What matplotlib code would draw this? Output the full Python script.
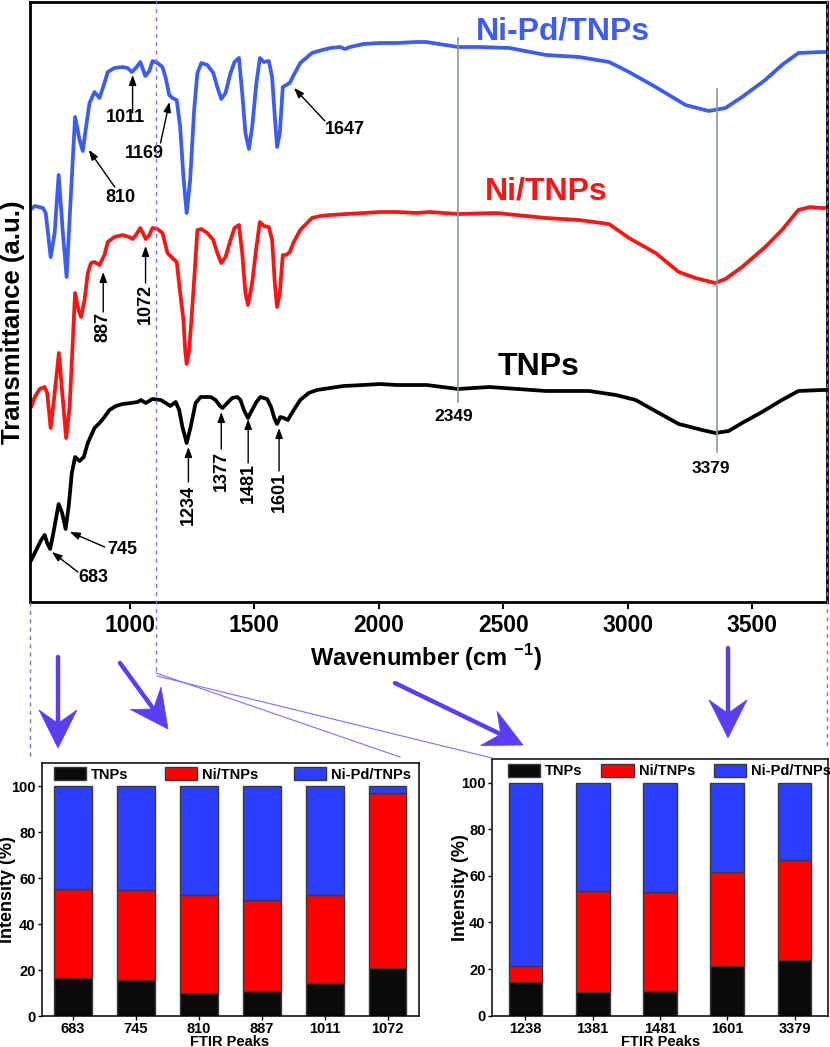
import math
import matplotlib
matplotlib.use('Agg')
import matplotlib.pyplot as plt
from matplotlib.patches import Polygon
from matplotlib.lines import Line2D

plt.rcParams['font.family'] = ['Liberation Sans', 'DejaVu Sans']
plt.rcParams['font.weight'] = 'bold'
plt.rcParams['mathtext.fontset'] = 'custom'
plt.rcParams['mathtext.rm'] = 'Liberation Sans:bold'
plt.rcParams['mathtext.bf'] = 'Liberation Sans:bold'

W, H = 830, 1047

# FTIR spectra: wavenumber (cm-1) and transmittance (a.u., stacked offsets)
wn_nipd = [600, 619, 652, 663, 683, 699, 715, 732, 747, 763, 781, 799, 812, 825,
           839, 859, 879, 899, 912, 939, 972, 992, 1009, 1025, 1043, 1063, 1079,
           1092, 1112, 1132, 1145, 1159, 1172, 1189, 1203, 1216, 1229, 1243, 1259,
           1272, 1288, 1312, 1336, 1352, 1368, 1385, 1405, 1421, 1439, 1452, 1465,
           1479, 1492, 1509, 1523, 1539, 1559, 1572, 1583, 1592, 1603, 1615, 1629,
           1643, 1659, 1685, 1732, 1759, 1805, 1845, 1865, 1885, 1939, 2005, 2072,
           2152, 2192, 2319, 2405, 2525, 2672, 2805, 2925, 3005, 3112, 3232, 3325,
           3392, 3459, 3552, 3619, 3685, 3779, 3800]
t_nipd = [392, 396, 394, 389, 345, 369, 427, 369, 325, 402, 485, 462, 451, 475,
          499, 510, 504, 519, 530, 534, 535, 534, 530, 534, 540, 526, 531,
          541, 539, 535, 524, 507, 504, 502, 475, 425, 389, 422, 492,
          529, 539, 537, 529, 515, 503, 509, 529, 540, 544, 509, 469,
          453, 475, 519, 544, 540, 541, 525, 485, 455, 469, 515, 517,
          519, 527, 539, 549, 551, 554, 555, 553, 555, 558, 559, 559,
          560, 560, 555, 555, 554, 547, 545, 540, 530, 515, 497, 491,
          494, 505, 522, 537, 549, 550, 550]

wn_ni = [600, 605, 619, 639, 659, 669, 683, 699, 716, 732, 745, 759, 772, 781,
         795, 805, 819, 832, 845, 859, 879, 899, 912, 939, 972, 999, 1012, 1025,
         1043, 1065, 1079, 1092, 1112, 1132, 1152, 1172, 1189, 1203, 1216, 1223,
         1229, 1239, 1248, 1261, 1272, 1288, 1312, 1336, 1352, 1368, 1385, 1405,
         1421, 1439, 1452, 1465, 1475, 1492, 1509, 1523, 1539, 1559, 1572, 1583,
         1592, 1603, 1615, 1629, 1643, 1659, 1685, 1732, 1765, 1805, 1872, 1939,
         2005, 2072, 2152, 2205, 2319, 2472, 2672, 2805, 2925, 3005, 3112, 3205,
         3272, 3352, 3392, 3459, 3552, 3619, 3685, 3732, 3779, 3800]
t_ni = [205, 195, 205, 213, 215, 209, 174, 209, 249, 202, 164, 195, 262, 309,
        292, 285, 302, 329, 339, 340, 337, 347, 360, 365, 367, 365, 363, 367,
        374, 363, 367, 374, 373, 369, 349, 344, 340, 309, 282, 252,
        238, 252, 282, 329, 372, 373, 369, 362, 349, 339, 345, 362,
        374, 377, 349, 309, 297, 319, 355, 380, 376, 375, 362, 319,
        295, 309, 347, 347, 350, 360, 372, 384, 386, 387, 388, 389,
        390, 390, 389, 390, 388, 389, 384, 382, 378, 364, 349, 330,
        324, 319, 323, 335, 355, 372, 392, 395, 394, 394]

wn_tnps = [600, 605, 619, 645, 659, 669, 681, 696, 715, 729, 743, 755, 768, 781,
           799, 816, 832, 859, 879, 899, 919, 945, 972, 1005, 1032, 1045, 1065,
           1092, 1125, 1145, 1163, 1185, 1199, 1212, 1229, 1245, 1265, 1285, 1325,
           1345, 1363, 1373, 1392, 1412, 1432, 1445, 1459, 1475, 1492, 1509, 1525,
           1552, 1568, 1581, 1592, 1605, 1619, 1635, 1659, 1685, 1719, 1752, 1805,
           1859, 1939, 2005, 2072, 2152, 2192, 2319, 2445, 2672, 2845, 2952, 3032,
           3125, 3205, 3299, 3352, 3405, 3459, 3539, 3619, 3685, 3779, 3800]
t_tnps = [40, 42, 49, 62, 67, 59, 53, 72, 98, 89, 73, 95, 129, 145,
          141, 145, 159, 174, 179, 185, 192, 196, 198, 199, 200, 202, 199,
          203, 202, 199, 196, 200, 192, 175, 159, 175, 199, 205, 205,
          202, 196, 194, 199, 204, 205, 202, 192, 184, 192, 200, 205,
          203, 195, 184, 178, 185, 184, 182, 192, 202, 209, 212, 214,
          216, 217, 218, 217, 217, 217, 213, 215, 211, 211, 207, 202,
          189, 178, 172, 169, 171, 179, 190, 202, 211, 212, 212]

# peak intensity shares (%)
left_peaks = ['683', '745', '810', '887', '1011', '1072']
left_tnps = [16.7, 15.6, 10.0, 11.0, 14.4, 20.9]
left_ni = [38.5, 39.1, 42.8, 39.4, 38.1, 76.2]
left_nipd = [44.8, 45.3, 47.2, 49.6, 47.5, 2.9]

right_peaks = ['1238', '1381', '1481', '1601', '3379']
right_tnps = [14.6, 10.3, 10.6, 21.4, 23.9]
right_ni = [6.7, 43.1, 42.3, 40.3, 42.8]
right_nipd = [78.7, 46.6, 47.1, 38.3, 33.3]

BLUE_LINE = '#3d5cf6'
RED_LINE = '#ff1414'
BLUE_BAR = '#2a3fff'
RED_BAR = '#ff0000'
BLACK_BAR = '#0a0a0a'
ARROW_C = '#5a3ff2'
DASH_C = '#7f72f2'


def fpt(x, y):
    """pixel (top-left origin) -> figure fraction"""
    return x / W, 1 - y / H


def big_arrow(fig, x0, y0, x1, y1, hl=38, hw=19):
    dx, dy = x1 - x0, y1 - y0
    L = math.hypot(dx, dy)
    ux, uy = dx / L, dy / L
    px, py = -uy, ux
    bx, by = x1 - ux * hl, y1 - uy * hl
    nx, ny = x1 - ux * hl * 0.65, y1 - uy * hl * 0.65
    pts = [(x1, y1), (bx + px * hw, by + py * hw), (nx, ny), (bx - px * hw, by - py * hw)]
    fig.add_artist(Polygon([fpt(*p) for p in pts], closed=True, facecolor=ARROW_C,
                           edgecolor=ARROW_C, lw=0.5, transform=fig.transFigure))
    a, b = fpt(x0, y0), fpt(nx, ny)
    fig.add_artist(Line2D([a[0], b[0]], [a[1], b[1]], color=ARROW_C, lw=3.2,
                          solid_capstyle='round', transform=fig.transFigure))


def fig_line(fig, pts, **kw):
    xs, ys = zip(*[fpt(*p) for p in pts])
    fig.add_artist(Line2D(xs, ys, transform=fig.transFigure, **kw))


fig = plt.figure(figsize=(W / 100, H / 100), dpi=100)

# ---- FTIR spectra ----
ax = fig.add_axes([30 / W, 1 - 602 / H, 797 / W, 600 / H])
ax.plot(wn_tnps, t_tnps, color='black', lw=2.7, solid_joinstyle='round')
ax.plot(wn_ni, t_ni, color=RED_LINE, lw=2.7, solid_joinstyle='round')
ax.plot(wn_nipd, t_nipd, color=BLUE_LINE, lw=2.7, solid_joinstyle='round')
ax.set_xlim(600, 3800)
ax.set_ylim(0, 600)
ax.set_yticks([])
ax.set_xticks([1000, 1500, 2000, 2500, 3000, 3500])
ax.tick_params(axis='x', direction='out', length=5, width=1.5, labelsize=16.5, pad=4)
for s in ax.spines.values():
    s.set_linewidth(2)

ax.text(2740, 563, 'Ni-Pd/TNPs', color=BLUE_LINE, fontsize=23, ha='center', va='baseline')
ax.text(2672, 402, 'Ni/TNPs', color=RED_LINE, fontsize=23, ha='center', va='baseline')
ax.text(2642, 227, 'TNPs', color='black', fontsize=23, ha='center', va='baseline')

# gray marker lines
ax.plot([2320, 2320], [200, 564], color='#8d9999', lw=1.2)
ax.text(2301, 181, '2349', fontsize=12.5, ha='center', va='baseline')
ax.plot([3359, 3359], [150, 513], color='#8d9999', lw=1.2)
ax.text(3333, 129, '3379', fontsize=12.5, ha='center', va='baseline')

# peak annotations: label, text pos, arrow tail, arrow tip, rotation
notes = [
    ('1011', (984, 485), (1012, 489), (1012, 527), 0),
    ('1169', (1060, 448), (1124, 459), (1160, 500), 0),
    ('810', (964, 405), (940, 415), (836, 452), 0),
    ('1647', (1864, 473), (1784, 481), (1660, 514), 0),
    ('887', (894, 275), (894, 290), (894, 330), 90),
    ('1072', (1064, 298), (1064, 319), (1064, 356), 90),
    ('683', (856, 25), (792, 30), (688, 50), 0),
    ('745', (972, 53), (900, 55), (760, 70), 0),
    ('1234', (1236, 97), (1236, 120), (1236, 155), 90),
    ('1377', (1368, 131), (1368, 153), (1368, 190), 90),
    ('1481', (1476, 119), (1476, 139), (1476, 183), 90),
    ('1601', (1600, 110), (1600, 131), (1600, 174), 90),
]
for lab, tp, tail, tip, rot in notes:
    ax.text(tp[0], tp[1], lab, fontsize=13, ha='center', va='center', rotation=rot)
    ax.annotate('', xy=tip, xytext=tail,
                arrowprops=dict(arrowstyle='-|>,head_length=0.6,head_width=0.22',
                                color='black', lw=1, shrinkA=0, shrinkB=0))

fig.text(13 / W, 1 - 322 / H, 'Transmittance (a.u.)', rotation=90, fontsize=18.5,
         ha='center', va='center')
fig.text(426 / W, 1 - 666 / H, r'Wavenumber (cm $^{\mathbf{-1}}$)', fontsize=17,
         ha='center', va='baseline')

# ---- connector graphics ----
fig_line(fig, [(155.5, 0), (155.5, 673)], color=DASH_C, lw=1, ls=(0, (3, 3)))
fig_line(fig, [(30, 602), (30, 758)], color=DASH_C, lw=1, ls=(0, (3, 3)))
fig_line(fig, [(827, 0), (827, 750)], color=DASH_C, lw=1, ls=(0, (3, 3)))
fig_line(fig, [(156, 673), (400, 757)], color=DASH_C, lw=0.8)
fig_line(fig, [(157, 676), (492, 758)], color=DASH_C, lw=0.8)

big_arrow(fig, 58, 657, 58, 748)
big_arrow(fig, 120, 663, 168, 729)
big_arrow(fig, 395, 683, 523, 745)
big_arrow(fig, 728, 648, 728, 738)


# ---- stacked bars ----
def stacked(rect, peaks, tnps, ni, nipd, width, leg_x0, leg_w, ylab_x, xlab_x):
    bx = fig.add_axes(rect)
    pos = list(range(len(peaks)))
    bot2 = [a + b for a, b in zip(tnps, ni)]
    kw = dict(width=width, edgecolor='#3a3a3a', linewidth=1)
    bx.bar(pos, tnps, color=BLACK_BAR, label='TNPs', **kw)
    bx.bar(pos, ni, bottom=tnps, color=RED_BAR, label='Ni/TNPs', **kw)
    bx.bar(pos, nipd, bottom=bot2, color=BLUE_BAR, label='Ni-Pd/TNPs', **kw)
    bx.set_xlim(-0.5, len(peaks) - 0.5)
    bx.set_ylim(0, 110)
    bx.set_yticks([0, 20, 40, 60, 80, 100])
    bx.set_xticks(pos)
    bx.set_xticklabels(peaks)
    bx.tick_params(direction='out', length=3, width=1, labelsize=10.5, pad=1.5)
    for s in bx.spines.values():
        s.set_linewidth(1.1)
    bx.legend(ncol=3, mode='expand', loc='center', frameon=False, fontsize=10.5,
              bbox_to_anchor=(leg_x0, 0.925, leg_w, 0.06), borderaxespad=0, borderpad=0,
              handlelength=2.2, handleheight=1.0, handletextpad=0.35)
    fig.text(ylab_x / W, rect[1] + rect[3] / 2, 'Intensity (%)', rotation=90,
             fontsize=13, ha='center', va='center')
    fig.text(xlab_x / W, 1 - 1046 / H, 'FTIR Peaks', fontsize=10.5, ha='center',
             va='baseline')
    return bx


stacked([41.7 / W, 1 - 1016 / H, 377.3 / W, 253 / H], left_peaks, left_tnps,
        left_ni, left_nipd, 0.6, 0.033, 0.946, 8, 230)
stacked([491.7 / W, 1 - 1015.7 / H, 336.6 / W, 256.4 / H], right_peaks, right_tnps,
        right_ni, right_nipd, 0.5, 0.048, 0.96, 460, 661)

fig.savefig('out.png', dpi=100)
